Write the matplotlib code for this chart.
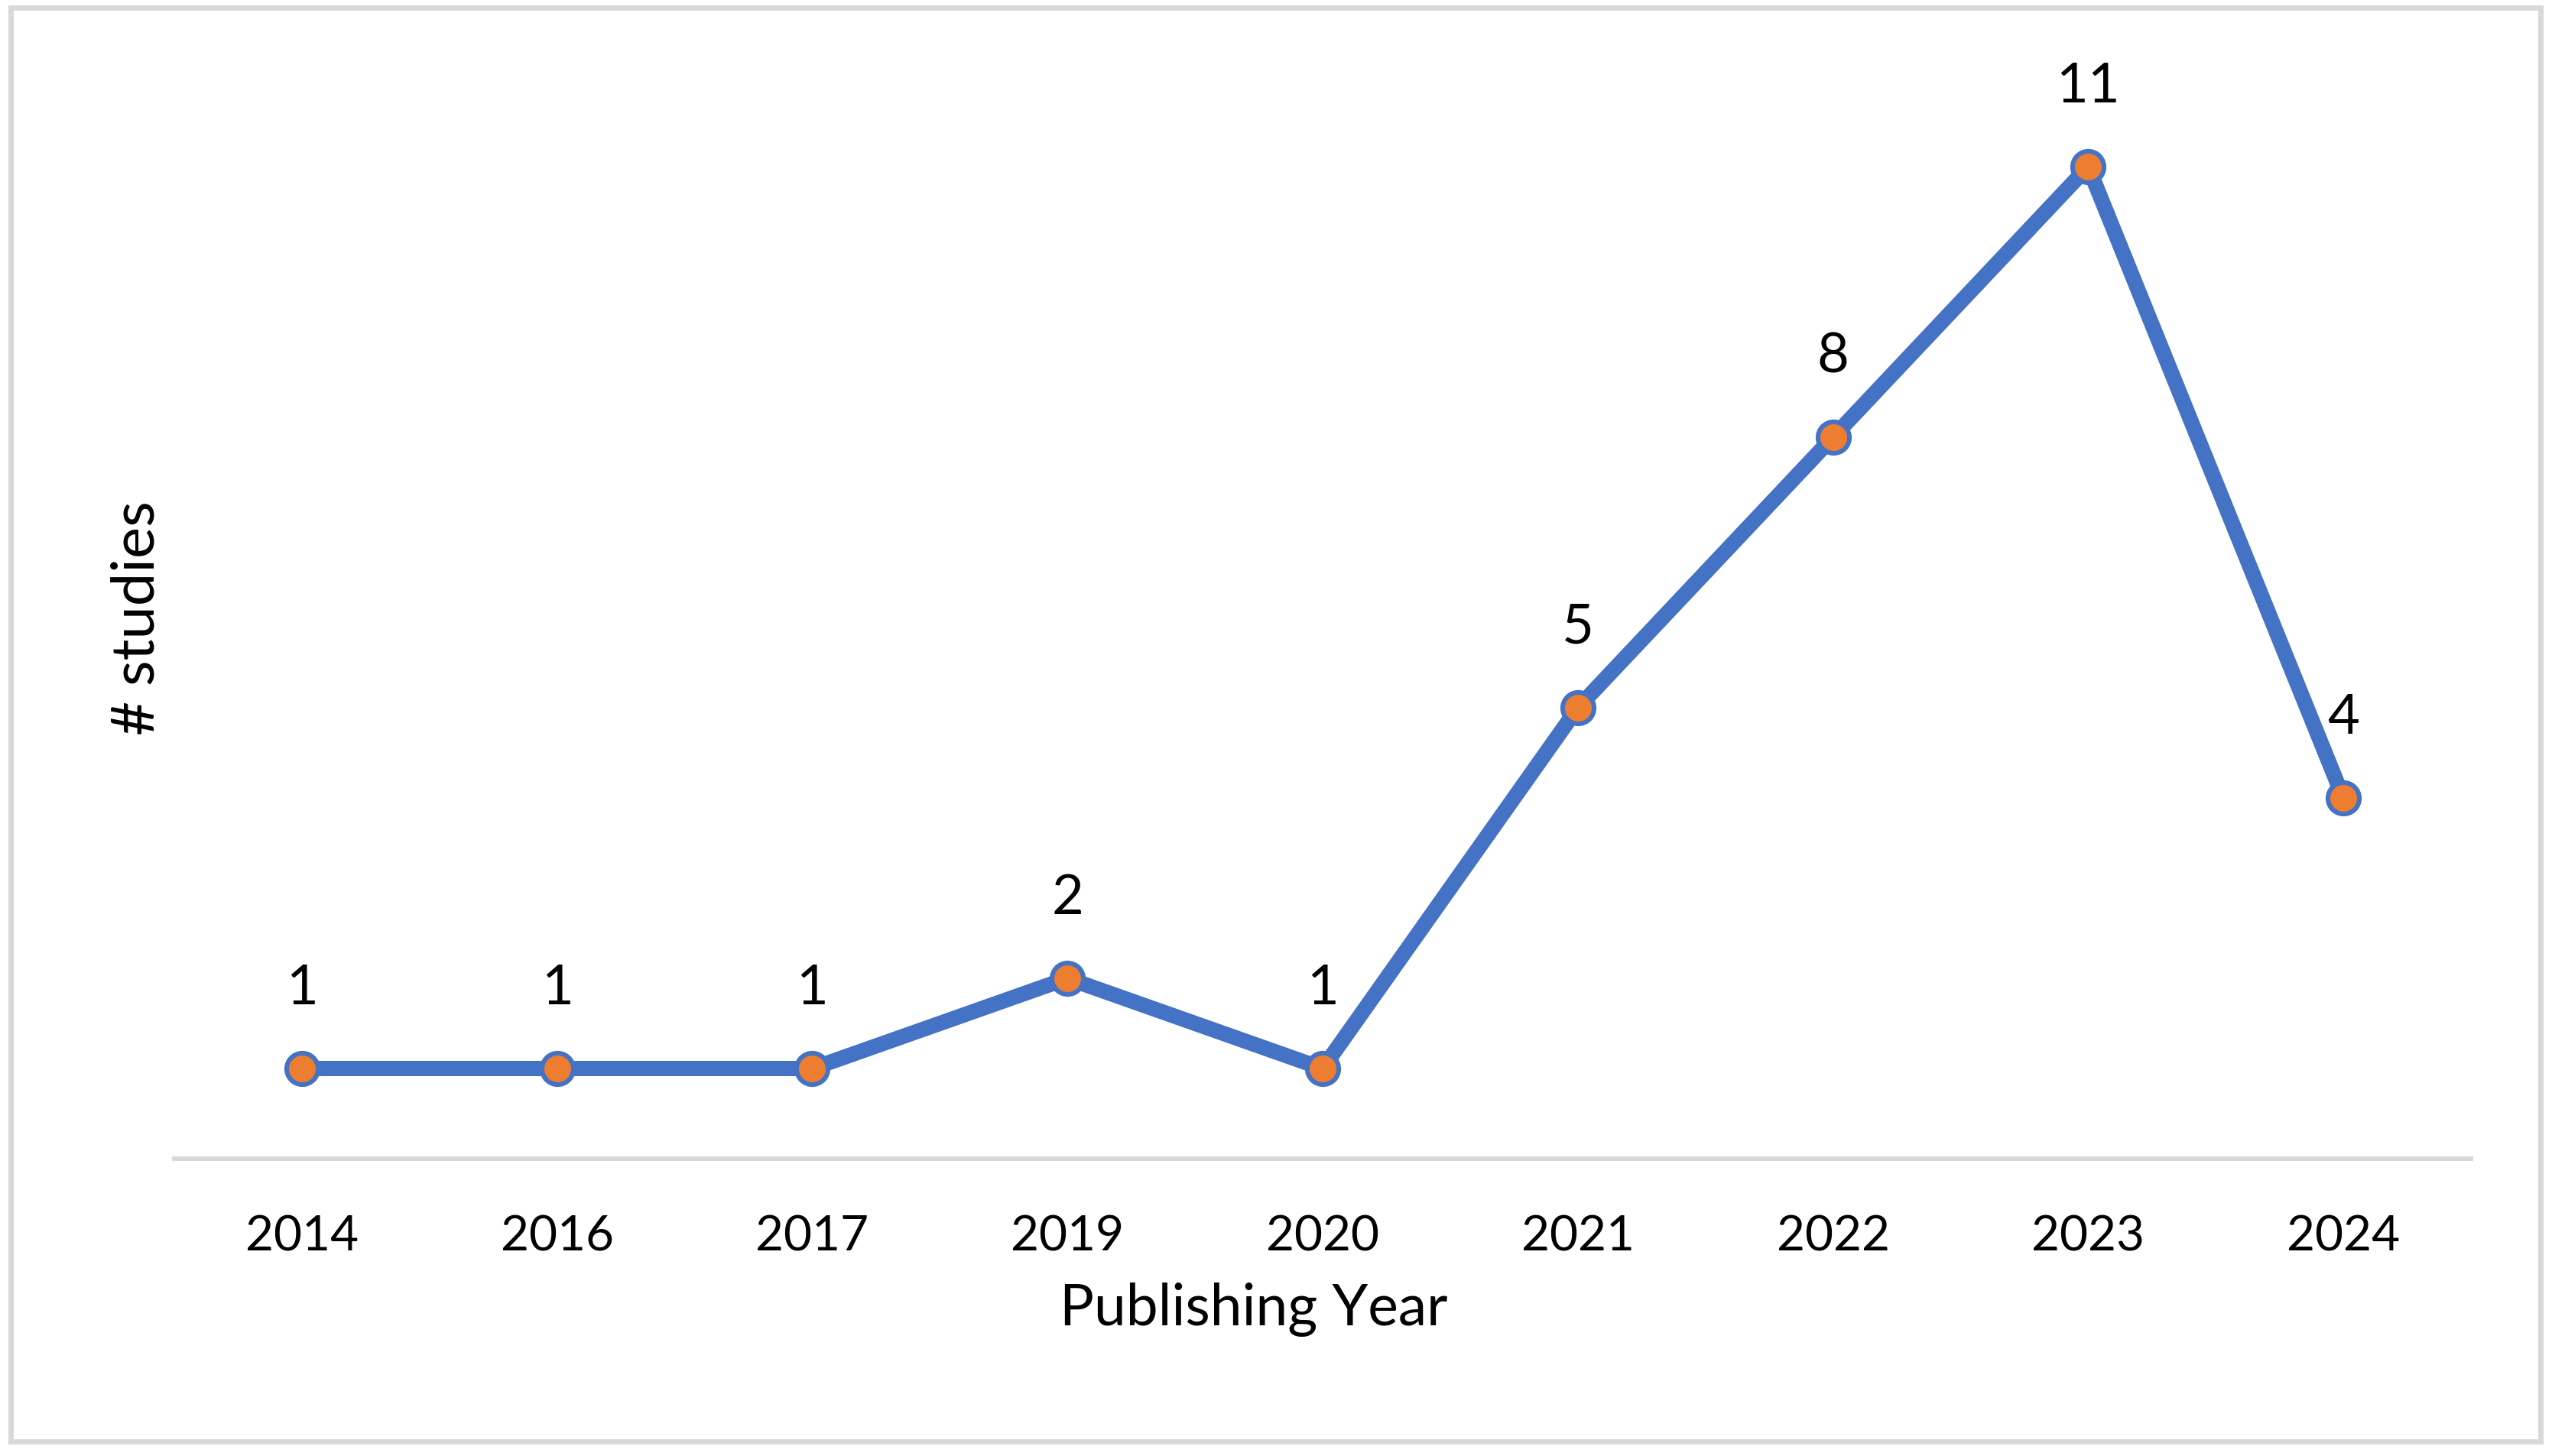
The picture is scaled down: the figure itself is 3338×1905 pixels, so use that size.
import matplotlib
matplotlib.use('Agg')
import matplotlib.pyplot as plt
from matplotlib.patches import Rectangle

years = ['2014', '2016', '2017', '2019', '2020', '2021', '2022', '2023', '2024']
studies = [1, 1, 1, 2, 1, 5, 8, 11, 4]

plt.rcParams['font.family'] = ['Lato', 'DejaVu Sans']

W, H = 3338, 1906
DPI = 200
fig = plt.figure(figsize=(W / DPI, H / DPI), dpi=DPI)

left, right, top, bottom = 228, 3232, 101, 1517
ax = fig.add_axes([left / W, 1 - bottom / H, (right - left) / W, (bottom - top) / H])

x = list(range(len(years)))
ax.plot(x, studies, color='#4472C4', linewidth=7.2, marker='o', markersize=14.8,
        markerfacecolor='#ED7D31', markeredgecolor='#4472C4', markeredgewidth=2.2,
        solid_joinstyle='miter', zorder=3)

for xi, v in zip(x, studies):
    ax.annotate(str(v), (xi, v), xytext=(0, 38), textcoords='offset points',
                ha='center', va='center', fontsize=26, color='black')

ax.set_xlim(-0.5, len(years) - 0.5)
ax.set_ylim(0, 12)
ax.set_xticks(x)
ax.set_xticklabels(years, fontsize=23)
ax.set_yticks([])
ax.tick_params(axis='x', length=0, pad=26)

for s in ['top', 'right', 'left']:
    ax.spines[s].set_visible(False)
ax.spines['bottom'].set_color('#D9D9D9')
ax.spines['bottom'].set_linewidth(2.2)
ax.spines['bottom'].set_zorder(1)

ax.set_xlabel('Publishing Year', fontsize=27)
ax.xaxis.set_label_coords(0.470, -0.114)
ax.set_ylabel('# studies', fontsize=28)
ax.yaxis.set_label_coords(-0.0043, 0.5)

# chart border
fig.patches.append(Rectangle((14 / W, 1 - 1887 / H), (3323 - 14) / W, (1887 - 11) / H,
                             transform=fig.transFigure, fill=False,
                             edgecolor='#D9D9D9', linewidth=2.5))

fig.savefig('out.png', dpi=DPI, facecolor='white')
